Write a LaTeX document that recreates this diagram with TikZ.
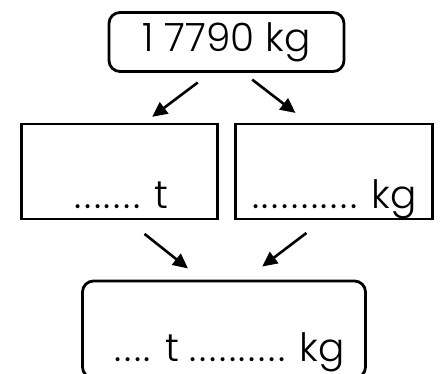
\documentclass[tikz,border=0pt]{standalone}
\usepackage{fontspec}
\setmainfont{Poppins Light}
\usetikzlibrary{arrows.meta,calc}
\newcommand\dotrun[1]{{\addfontfeature{LetterSpace=7}#1}}

\begin{document}
\begin{tikzpicture}[x=1pt, y=-1pt,
    box/.style={draw, line width=2.8pt, inner sep=0pt},
    roundbox/.style={box, rounded corners=11pt},
    arr/.style={line width=2.6pt, -{Triangle[length=15pt, width=14pt]}},
    txt/.style={inner sep=0pt, font=\fontsize{39}{45}\selectfont}]

    % Fix the page size
    \useasboundingbox (0,0) rectangle (447,374);

    % The whole mass at the top
    \node[roundbox, txt, minimum width=235pt, minimum height=59pt] (top) at (226.5,42) {1 7790 kg};

    % The two parts: tonnes and kilograms
    \node[box, minimum width=196pt, minimum height=95pt] (tonnes) at (119.5,171.5) {};
    \node[box, minimum width=197pt, minimum height=95pt] (kilos) at (334,171.5) {};

    % The result at the bottom
    \node[roundbox, minimum width=283pt, minimum height=97pt] (result) at (224,329.5) {};

    % Texts in the boxes
    \node[txt, anchor=base east] (tonnestxt) at ($(tonnes.south east)+(-50,-12)$) {\dotrun{.......} t};
    \node[txt, anchor=base east] (kilostxt) at ($(kilos.south east)+(-17,-12)$) {\dotrun{...........} kg};
    \node[txt, anchor=base east] (resulttxt) at ($(result.south east)+(-22,-18)$) {\dotrun{....} t \dotrun{..........} kg};

    % Arrows
    \draw[arr, shorten <=16pt, shorten >=9.6pt] ([xshift=-16pt]top.south) -- ([xshift=25pt]tonnes.north);
    \draw[arr, shorten <=11pt, shorten >=15.8pt] ([xshift=17pt]top.south) -- ([xshift=-26pt]kilos.north);
    \draw[arr, shorten <=21.7pt, shorten >=17.9pt] ([xshift=8pt]tonnes.south) -- ([xshift=-22pt]result.north);
    \draw[arr, shorten <=20.8pt, shorten >=21.6pt] ([xshift=-11pt]kilos.south) -- ([xshift=21pt]result.north);

\end{tikzpicture}
\end{document}
